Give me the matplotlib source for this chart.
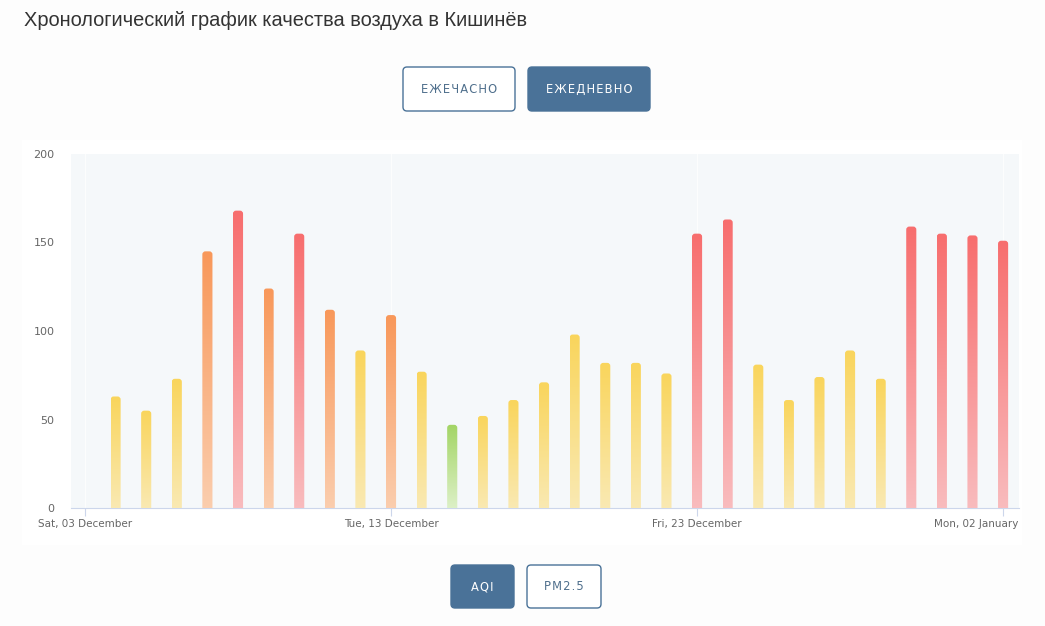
import matplotlib.pyplot as plt
import matplotlib.dates as mdates
import matplotlib.transforms as mtransforms
import numpy as np
from matplotlib.patches import FancyBboxPatch, Rectangle
from matplotlib.colors import to_rgb
from datetime import date, timedelta

# daily AQI values, 4 Dec 2022 .. 2 Jan 2023
start = date(2022, 12, 4)
aqi = [63, 55, 73, 145, 168, 124, 155, 112, 89, 109,
       77, 47, 52, 61, 71, 98, 82, 82, 76, 155,
       163, 81, 61, 74, 89, 73, 159, 155, 154, 151]
days = [start + timedelta(days=i) for i in range(len(aqi))]
tick_days = [date(2022, 12, 3), date(2022, 12, 13), date(2022, 12, 23), date(2023, 1, 2)]
tick_labels = ["Sat, 03 December", "Tue, 13 December", "Fri, 23 December", "Mon, 02 January"]
title = "Хронологический график качества воздуха в Кишинёв"

# (top colour, bottom colour) per AQI band
def band(v):
    if v <= 50:
        return "#a3d565", "#dcf0c6"
    if v <= 100:
        return "#fad55c", "#f9e9b2"
    if v <= 150:
        return "#f8985a", "#fbcdad"
    return "#f76e6e", "#f9bbbd"

W, H = 1045, 626
fig = plt.figure(figsize=(W / 100, H / 100), dpi=100)
fig.patch.set_facecolor("#fdfdfd")

# pixel overlay for title and buttons
bg = fig.add_axes([0, 0, 1, 1])
bg.set_xlim(0, W)
bg.set_ylim(H, 0)
bg.axis("off")
bg.add_patch(Rectangle((22, 140), 1000, 405, fc="white", ec="none"))
bg.text(24, 21, title, fontsize=14.4, color="#333333", va="center", ha="left",
        family="Liberation Sans")

blue = "#4a7298"
def button(x0, y0, x1, y1, label, filled):
    box = FancyBboxPatch((x0, y0), x1 - x0, y1 - y0,
                         boxstyle="round,pad=0,rounding_size=4",
                         fc=blue if filled else "white", ec=blue, lw=1.0)
    bg.add_patch(box)
    spaced = "\u200a".join(label)
    bg.text((x0 + x1) / 2, (y0 + y1) / 2 + 0.5, spaced, fontsize=8.3,
            color="white" if filled else "#4f6f8c", ha="center", va="center",
            family="DejaVu Sans")

button(403, 67, 515, 111, "ЕЖЕЧАСНО", False)
button(528, 67, 650, 111, "ЕЖЕДНЕВНО", True)
button(451, 565, 514, 608, "AQI", True)
button(527, 565, 601, 608, "PM2.5", False)

# chart
ax = fig.add_axes([71 / W, 1 - 508 / H, (1019 - 71) / W, (508 - 154) / H])
ax.set_facecolor("#f5f8fa")
x = mdates.date2num(days)
x0 = mdates.date2num(tick_days[0])

bw = 0.33
for xi, v in zip(x, aqi):
    top, bot = band(v)
    grad = np.linspace(to_rgb(top), to_rgb(bot), 64).reshape(64, 1, 3)
    im = ax.imshow(grad, extent=(xi - bw / 2, xi + bw / 2, 0, v),
                   aspect="auto", origin="upper", zorder=3, interpolation="bilinear")
    clip = FancyBboxPatch((xi - bw / 2, -10), bw, v + 10,
                          boxstyle="round,pad=0,rounding_size=0.1",
                          mutation_aspect=17.3, transform=ax.transData,
                          fc="none", ec="none")
    ax.add_patch(clip)
    im.set_clip_path(clip)

ax.set_xlim(x0 - 0.457, x0 + 30.52)
ax.set_ylim(0, 200)

ax.set_xticks(mdates.date2num(tick_days))
ax.set_xticklabels(tick_labels)
ax.set_yticks([0, 50, 100, 150, 200])
ax.tick_params(axis="x", length=6, color="#ccd6eb", labelsize=7.5, labelcolor="#666666", pad=2)
ax.tick_params(axis="y", length=0, labelsize=8, labelcolor="#666666", pad=12)
ax.grid(axis="x", color="white", lw=0.8, alpha=0.8, zorder=1)
ax.set_axisbelow(True)
for s in ["top", "right", "left"]:
    ax.spines[s].set_visible(False)
ax.spines["bottom"].set_color("#ccd6eb")

# keep last label inside the plot, as in the original
lbl = ax.get_xticklabels()[-1]
lbl.set_horizontalalignment("right")
lbl.set_transform(lbl.get_transform() + mtransforms.ScaledTranslation(11 / 72, 0, fig.dpi_scale_trans))

fig.savefig("out.png", dpi=100)
